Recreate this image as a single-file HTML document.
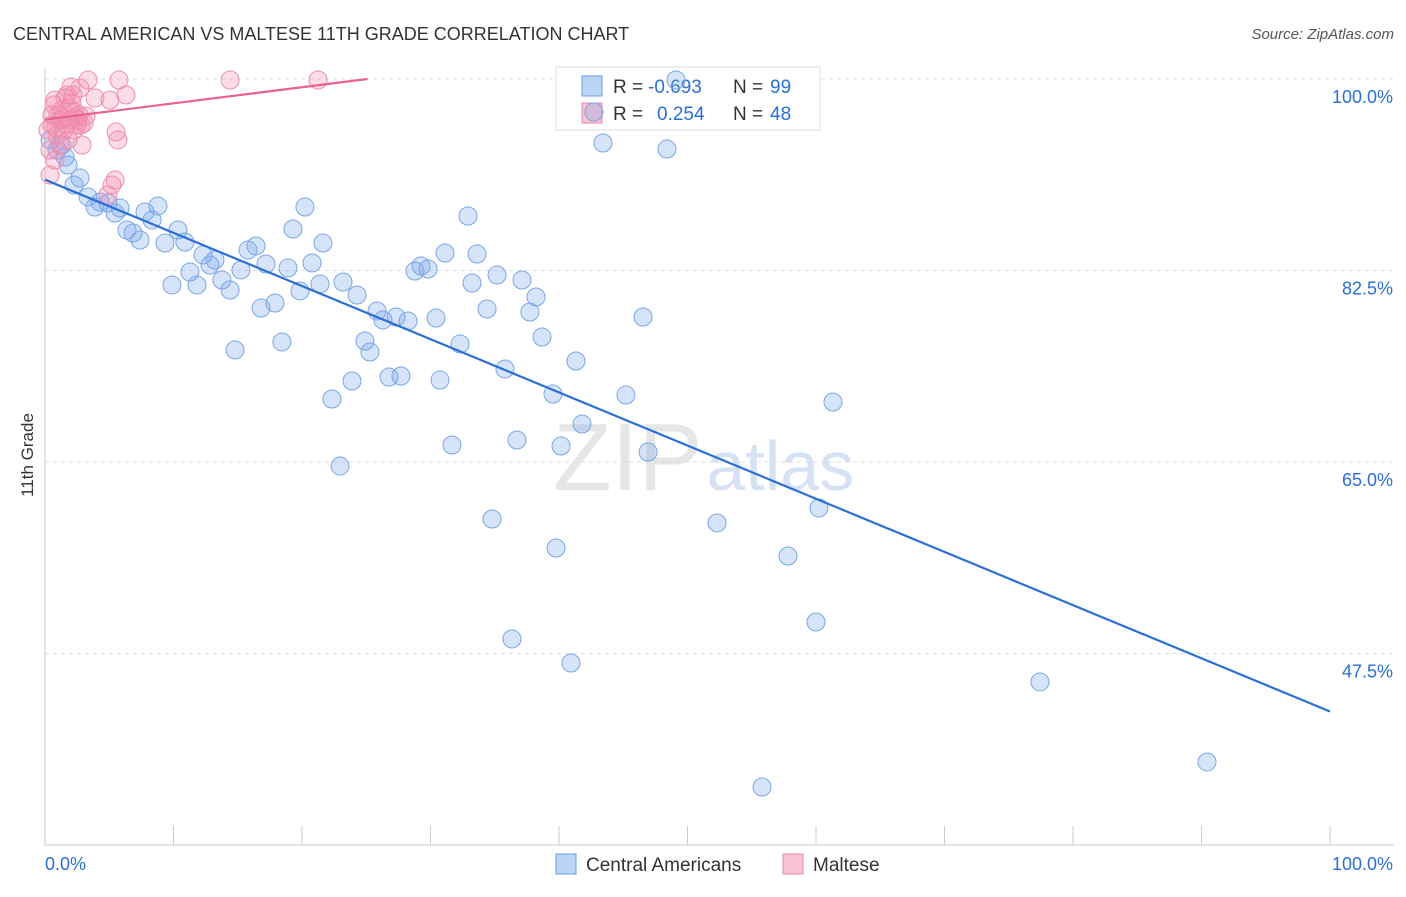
<!DOCTYPE html>
<html><head><meta charset="utf-8"><style>
body{margin:0;background:#fff;font-family:"Liberation Sans",sans-serif;}
svg text{font-family:"Liberation Sans",sans-serif;}
</style></head><body>
<svg width="1406" height="892" xmlns="http://www.w3.org/2000/svg" id="c">
<text x="13" y="40" font-size="18" fill="#333">CENTRAL AMERICAN VS MALTESE 11TH GRADE CORRELATION CHART</text>
<text x="1394" y="39" font-size="15" fill="#555" text-anchor="end" font-style="italic">Source: ZipAtlas.com</text>
<text transform="translate(33,455) rotate(-90)" font-size="17" fill="#333" text-anchor="middle">11th Grade</text>
<text x="553" y="490" font-size="96" fill="#e6e6e6" font-family="Liberation Serif">ZIP<tspan fill="#d5e2f4" font-family="Liberation Sans" font-size="70" dx="4">atlas</tspan></text>
<g id="grid"></g><g id="axes"></g>
<g>
<rect x="556" y="67" width="264" height="63" fill="#fff" stroke="#ddd"/>
<rect x="582" y="76" width="20" height="20" fill="#bcd4f5" stroke="#6a9be0"/>
<rect x="582" y="103" width="20" height="20" fill="#f8c4d4" stroke="#e88aa8"/>
<text x="613" y="93" font-size="19" fill="#333">R =</text>
<text x="648" y="93" font-size="19" fill="#2a6fd6">-0.693</text>
<text x="733" y="93" font-size="19" fill="#333">N =</text>
<text x="770" y="93" font-size="19" fill="#2a6fd6">99</text>
<text x="613" y="120" font-size="19" fill="#333">R =</text>
<text x="657" y="120" font-size="19" fill="#2a6fd6">0.254</text>
<text x="733" y="120" font-size="19" fill="#333">N =</text>
<text x="770" y="120" font-size="19" fill="#2a6fd6">48</text>
</g>
<g id="pts"></g><g id="lines"></g>
<g>
<rect x="556" y="854" width="20" height="20" fill="#bcd4f5" stroke="#6a9be0"/>
<text x="586" y="871" font-size="19" fill="#333">Central Americans</text>
<rect x="783" y="854" width="20" height="20" fill="#f8c4d4" stroke="#e88aa8"/>
<text x="813" y="871" font-size="19" fill="#333">Maltese</text>
</g>
</svg>
<script>
const yTicks=[100,82.5,65,47.5];
const yTickLabels=["100.0%","82.5%","65.0%","47.5%"];
const bluePx=[[50,140],[57,150],[62,145],[65,157],[68,165],[74,185],[80,178],[88,197],[95,207],[100,202],[108,203],[115,213],[120,208],[127,230],[133,233],[140,240],[145,212],[152,220],[158,206],[165,243],[172,285],[178,230],[185,242],[190,272],[197,285],[203,255],[210,265],[215,260],[222,280],[230,290],[235,350],[241,270],[248,250],[256,246],[261,308],[266,264],[275,303],[282,342],[288,268],[293,229],[300,291],[305,207],[312,263],[320,284],[323,243],[332,399],[340,466],[343,282],[352,381],[357,295],[365,341],[370,352],[377,311],[383,320],[389,377],[396,317],[401,376],[408,321],[415,271],[421,266],[428,269],[436,318],[440,380],[445,253],[452,445],[460,344],[468,216],[472,283],[477,254],[487,309],[492,519],[497,275],[505,369],[512,639],[517,440],[522,280],[530,312],[536,297],[542,337],[553,394],[556,548],[561,446],[571,663],[576,361],[582,424],[594,112],[603,143],[626,395],[643,317],[648,452],[667,149],[676,80],[717,523],[788,556],[816,622],[819,508],[833,402],[1040,682],[1207,762],[762,787]];
const pinkPx=[[50,175],[52,125],[55,100],[57,135],[60,120],[62,110],[64,130],[67,95],[69,108],[71,87],[72,103],[74,130],[76,118],[78,120],[80,88],[82,145],[84,123],[88,80],[95,98],[110,100],[112,185],[115,180],[116,132],[118,140],[119,80],[126,95],[230,80],[318,80],[108,195],[48,130],[52,115],[58,115],[65,98],[70,120],[75,112],[77,125],[79,115],[54,105],[60,145],[66,125],[73,95],[56,128],[63,118],[68,140],[81,125],[86,116],[50,150],[55,160]];
const blueX=bluePx.map(p=>+((p[0]-45)/12.85).toFixed(2)), blueY=bluePx.map(p=>+(100-(p[1]-79)/10.943).toFixed(2));
const pinkX=pinkPx.map(p=>+((p[0]-45)/12.85).toFixed(2)), pinkY=pinkPx.map(p=>+(100-(p[1]-79)/10.943).toFixed(2));
const blueTrend=[[0,90.8],[100,42.2]];
const pinkTrend=[[0,96.3],[25.1,100]];
const X=v=>45+v*12.85, Y=v=>79+(100-v)*10.943;
const NS="http://www.w3.org/2000/svg";
function mk(t,a,parent){const e=document.createElementNS(NS,t);for(const k in a)e.setAttribute(k,a[k]);document.getElementById(parent).appendChild(e);return e;}
yTicks.forEach((v,i)=>{
 const l=mk('line',{x1:45,x2:1394,y1:Y(v),y2:Y(v),stroke:'#ddd','stroke-dasharray':'4,4'},'grid');
 
 
 const t=mk('text',{x:1393,y:Y(v)+24,'font-size':18,fill:'#2a6fd6','text-anchor':'end'},'grid');
 t.textContent=yTickLabels[i];
 
 
});
const ax=mk('line',{x1:45,x2:1394,y1:845,y2:845,stroke:'#ccc'},'axes');


const ay=mk('line',{x1:45,x2:45,y1:68,y2:845,stroke:'#ccc'},'axes');


for(let i=0;i<=10;i++){const t=mk('line',{x1:X(i*10),x2:X(i*10),y1:826,y2:845,stroke:'#ccc'},'axes');
 
 }
[[0,'0.0%','start',45],[100,'100.0%','end',1393]].forEach(d=>{const t=mk('text',{x:d[3],y:870,'font-size':18,fill:'#2a6fd6','text-anchor':d[2]},'axes');t.textContent=d[1];
 
 });
blueX.forEach((x,i)=>{const c=mk('circle',{cx:X(x),cy:Y(blueY[i]),r:9,fill:'rgba(120,165,235,0.3)',stroke:'#7aa6e6','stroke-width':1},'pts');
 
 });
pinkX.forEach((x,i)=>{const c=mk('circle',{cx:X(x),cy:Y(pinkY[i]),r:9,fill:'rgba(245,140,175,0.3)',stroke:'#ec8fae','stroke-width':1},'pts');
 
 });
const bl=mk('line',{x1:X(blueTrend[0][0]),y1:Y(blueTrend[0][1]),x2:X(blueTrend[1][0]),y2:Y(blueTrend[1][1]),stroke:'#2a6fd6','stroke-width':2.2},'lines');


const pl=mk('line',{x1:X(pinkTrend[0][0]),y1:Y(pinkTrend[0][1]),x2:X(pinkTrend[1][0]),y2:Y(pinkTrend[1][1]),stroke:'#e8638f','stroke-width':2.2},'lines');


</script>
</body></html>
